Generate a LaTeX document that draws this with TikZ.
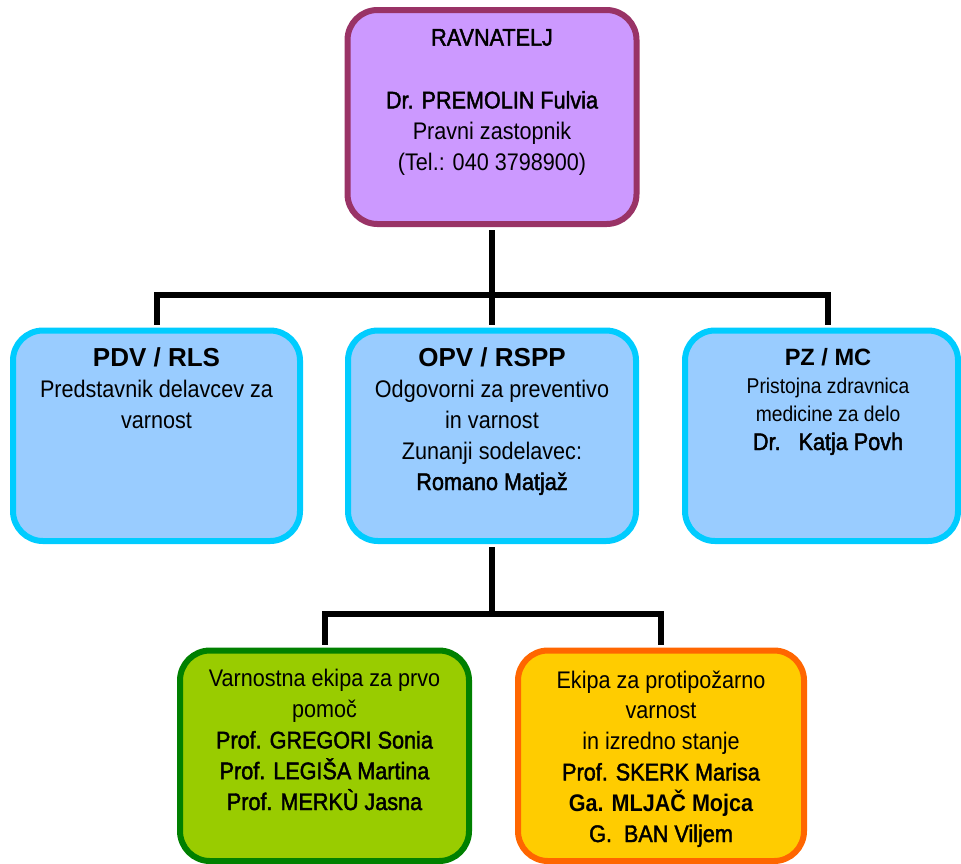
\documentclass[tikz,border=0pt]{standalone}
\usepackage{fontspec}
\setmainfont[FakeStretch=0.9]{Liberation Sans}
\newfontfamily\medfont[FakeStretch=0.9,FakeBold=1.8]{Liberation Sans}
\newfontfamily\headfont{Liberation Sans}
\definecolor{ravline}{HTML}{993366}
\definecolor{ravfill}{HTML}{CC99FF}
\definecolor{blueline}{HTML}{00CCFF}
\definecolor{bluefill}{HTML}{99CCFF}
\definecolor{greenline}{HTML}{008000}
\definecolor{greenfill}{HTML}{99CC00}
\definecolor{orangeline}{HTML}{FF6600}
\definecolor{orangefill}{HTML}{FFCC00}
\begin{document}
\begin{tikzpicture}[x=0.5pt, y=-0.5pt,
  box/.style={rounded corners=15pt, line width=3pt, inner sep=0pt},
  ravbox/.style={box, draw=ravline, fill=ravfill},
  bluebox/.style={box, draw=blueline, fill=bluefill},
  greenbox/.style={box, draw=greenline, fill=greenfill},
  orangebox/.style={box, draw=orangeline, fill=orangefill},
  txt/.style={anchor=base, align=center, inner sep=0pt, font=\fontsize{12}{15.4}\selectfont},
  link/.style={line width=3pt, shorten >=1.5pt, shorten <=1.5pt}]
\useasboundingbox (0,0) rectangle (961,863);

\node[ravbox, minimum width=144.5pt, minimum height=107pt] (rav) at (492,117) {};
\node[bluebox, minimum width=143.5pt, minimum height=105.25pt] (pdv) at (156.5,435.75) {};
\node[bluebox, minimum width=144pt, minimum height=105.25pt] (opv) at (492,435.75) {};
\node[bluebox, minimum width=136.5pt, minimum height=105.25pt] (pz) at (821.5,435.75) {};
\node[greenbox, minimum width=144.5pt, minimum height=105.25pt] (prva) at (324.5,755.75) {};
\node[orangebox, minimum width=143pt, minimum height=105.25pt] (pozar) at (661,755.75) {};

% base = last line of each text
\node[txt] (ravtxt) at (492,170) {{\medfont RAVNATELJ}\\[16pt]
  {\medfont Dr. PREMOLIN Fulvia}\\ Pravni zastopnik\\ (Tel.: 040 3798900)};
\node[txt] (pdvtxt) at (156.5,428) {{\headfont\bfseries\fontsize{13}{15.4}\selectfont PDV / RLS}\\
  Predstavnik delavcev za\\ varnost};
\node[txt] (opvtxt) at (492,490) {{\headfont\bfseries\fontsize{13}{15.4}\selectfont OPV / RSPP}\\
  Odgovorni za preventivo\\ in varnost\\ Zunanji sodelavec:\\ {\medfont Romano Matjaž}};
\node[txt, font=\fontsize{10.7}{13.8}\selectfont] (pztxt) at (828,450)
  {{\headfont\bfseries\fontsize{11.8}{13.8}\selectfont PZ / MC}\\ Pristojna zdravnica\\
  medicine za delo\\[0.7pt] {\medfont\fontsize{12}{13.8}\selectfont Dr.\ \ \ Katja Povh}};
\node[txt] (prvatxt) at (324.5,810) {Varnostna ekipa za prvo\\ pomoč\\
  {\medfont Prof. GREGORI Sonia}\\ {\medfont Prof. LEGIŠA Martina}\\ {\medfont Prof. MERKÙ Jasna}};
\node[txt] (pozartxt) at (661,842) {Ekipa za protipožarno\\ varnost\\ in izredno stanje\\
  {\medfont Prof. SKERK Marisa}\\ {\bfseries Ga. MLJAČ Mojca}\\ {\medfont G.\ \ BAN Viljem}};

\coordinate (bus1) at (492,295);
\coordinate (bus2) at (492,614);

\draw[link] (rav.south) -- (opv.north);
\draw[link] (pdv.north) |- (bus1) -| (pz.north -| pztxt);
\draw[link] (opv.south) -- (bus2);
\draw[link] (prva.north) |- (bus2) -| (pozar.north);
\end{tikzpicture}
\end{document}
